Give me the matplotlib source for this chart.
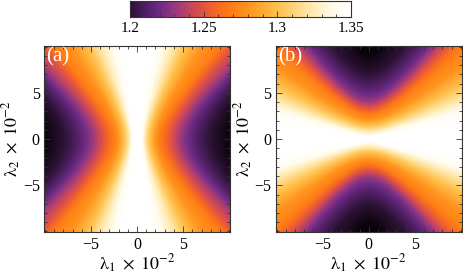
import numpy as np
import matplotlib
matplotlib.use("Agg")
import matplotlib.pyplot as plt
from matplotlib.colors import LinearSegmentedColormap, Normalize
from matplotlib.ticker import MultipleLocator

plt.rcParams['font.family'] = ['Liberation Serif', 'DejaVu Serif']
plt.rcParams['mathtext.fontset'] = 'stix'

# values of the level lines (same for both panels)
levels = [1.36, 1.34, 1.32, 1.30, 1.28, 1.27, 1.25, 1.23, 1.22, 1.21, 1.20, 1.19, 1.18]

# panel (a): for each lambda2 row, lambda1 position where the value hits each level
rows_a = [0, 1, 2, 3.5, 5, 7, 10.5]
xpos_a = [
    [0, 0.50, 0.80, 1.30, 1.90, 2.30, 3.50, 4.70, 5.50, 6.50, 7.90, 9.80, 12.0],
    [0, 0.56, 0.89, 1.39, 2.01, 2.45, 3.63, 4.84, 5.63, 6.63, 8.02, 9.90, 12.1],
    [0, 0.70, 1.12, 1.64, 2.32, 2.85, 4.00, 5.24, 6.01, 6.99, 8.36, 10.2, 12.3],
    [0, 0.99, 1.59, 2.19, 3.00, 3.73, 4.87, 6.21, 6.94, 7.91, 9.23, 11.0, 13.0],
    [0, 1.32, 2.12, 2.83, 3.82, 4.78, 5.97, 7.47, 8.18, 9.15, 10.4, 12.0, 13.9],
    [0, 1.79, 2.86, 3.76, 5.02, 6.31, 7.61, 9.39, 10.1, 11.1, 12.4, 13.9, 15.5],
    [0, 2.62, 4.19, 5.44, 7.22, 9.10, 10.7, 13.1, 13.8, 15.0, 16.3, 17.7, 19.0],
]

# panel (b): for each lambda1 column, lambda2 position where the value hits each level
cols_b = [0, 1, 2, 3.5, 5, 7, 10.5]
ypos_b = [
    [0, 0.30, 0.85, 1.35, 2.00, 2.50, 3.20, 4.00, 4.70, 5.70, 7.00, 8.80, 11.0],
    [0, 0.42, 0.95, 1.46, 2.13, 2.66, 3.38, 4.20, 4.89, 5.90, 7.23, 9.30, 11.4],
    [0, 0.67, 1.20, 1.75, 2.48, 3.10, 3.88, 4.74, 5.43, 6.46, 7.87, 10.7, 12.5],
    [0, 1.09, 1.70, 2.38, 3.25, 4.08, 5.01, 5.98, 6.69, 7.80, 9.42, 13.7, 15.2],
    [0, 1.52, 2.27, 3.10, 4.18, 5.24, 6.36, 7.51, 8.27, 9.50, 11.4, 17.4, 18.6],
    [0, 2.11, 3.07, 4.14, 5.51, 6.91, 8.34, 9.75, 10.6, 12.1, 14.4, 22.8, 23.7],
    [0, 3.15, 4.51, 6.02, 7.95, 9.98, 12.0, 13.9, 15.0, 17.0, 20.2, 32.7, 33.4],
]

cbar_ticks = [1.2, 1.25, 1.3, 1.35]
cbar_labels = ['1.2', '1.25', '1.3', '1.35']

# colour map (sunset like)
vmin, vmax = 1.18, 1.35
stops = [
    (1.18, (0.0, 0.0, 0.0)),
    (1.19, (0.05, 0.02, 0.06)),
    (1.20, (0.17, 0.07, 0.20)),
    (1.21, (0.31, 0.12, 0.39)),
    (1.22, (0.43, 0.17, 0.52)),
    (1.23, (0.59, 0.22, 0.50)),
    (1.24, (0.76, 0.27, 0.38)),
    (1.25, (0.89, 0.33, 0.25)),
    (1.26, (0.97, 0.42, 0.13)),
    (1.27, (1.0, 0.50, 0.08)),
    (1.28, (1.0, 0.58, 0.12)),
    (1.29, (1.0, 0.67, 0.20)),
    (1.30, (1.0, 0.75, 0.30)),
    (1.31, (1.0, 0.82, 0.45)),
    (1.32, (1.0, 0.89, 0.62)),
    (1.33, (1.0, 0.95, 0.80)),
    (1.34, (1.0, 0.99, 0.94)),
    (1.35, (1.0, 1.0, 1.0)),
]
cmap = LinearSegmentedColormap.from_list(
    'sunset', [((v - vmin) / (vmax - vmin), c) for v, c in stops])
cmap.set_over('white')
cmap.set_under('black')
norm = Normalize(vmin, vmax)


def mirror(lines, pos):
    lines = np.asarray(lines, float)
    pos = np.asarray(pos, float)
    lev = np.asarray(levels)
    p = np.hstack([-pos[:, :0:-1], pos])
    p = np.vstack([p[:0:-1], p])
    l = np.concatenate([-lines[:0:-1], lines])
    L = np.repeat(l[:, None], p.shape[1], axis=1)
    Z = np.tile(np.concatenate([lev[:0:-1], lev]), (len(l), 1))
    return L, p, Z


fig = plt.figure(figsize=(4.63, 2.76), dpi=100)
axa = fig.add_axes([0.095, 0.158, 0.402, 0.676])
axb = fig.add_axes([0.5955, 0.158, 0.402, 0.676])
cax = fig.add_axes([0.281, 0.937, 0.477, 0.059])

clev = np.arange(1.17, 1.3701, 0.001)

Ya, Xa, Za = mirror(rows_a, xpos_a)
cs = axa.contourf(Xa, Ya, Za, levels=clev, cmap=cmap, norm=norm, extend='both')
cs.set_edgecolor('face')
cs.set_linewidth(0.4)

Xb, Yb, Zb = mirror(cols_b, ypos_b)
cs = axb.contourf(Xb, Yb, Zb, levels=clev, cmap=cmap, norm=norm, extend='both')
cs.set_edgecolor('face')
cs.set_linewidth(0.4)

for ax, lab in [(axa, '(a)'), (axb, '(b)')]:
    ax.set_xlim(-10.1, 10.1)
    ax.set_ylim(-10.1, 10.1)
    ax.set_xticks([-5, 0, 5])
    ax.set_yticks([-5, 0, 5])
    ax.xaxis.set_minor_locator(MultipleLocator(1))
    ax.yaxis.set_minor_locator(MultipleLocator(1))
    ax.tick_params(which='both', direction='in', top=True, right=True,
                   color='#333333', width=0.6, labelsize=11.5, pad=3)
    ax.tick_params(which='major', length=4)
    ax.tick_params(which='minor', length=2)
    for s in ax.spines.values():
        s.set_color('#333333')
        s.set_linewidth(0.8)
    ax.set_xlabel(r'$\mathrm{\lambda}_1\ \times\ 10^{-2}$', fontsize=13, labelpad=0)
    ax.set_ylabel(r'$\mathrm{\lambda}_2\ \times\ 10^{-2}$', fontsize=13, labelpad=0)
    ax.text(0.012, 0.99, lab, transform=ax.transAxes, color='white',
            fontsize=15, ha='left', va='top')

grad = np.linspace(1.2, 1.35, 400).reshape(1, -1)
cax.imshow(grad, cmap=cmap, norm=norm, aspect='auto',
           extent=[1.2, 1.35, 0, 1], origin='lower')
cax.set_xlim(1.2, 1.35)
cax.set_yticks([])
cax.set_xticks(cbar_ticks)
cax.set_xticklabels(cbar_labels)
cax.xaxis.set_minor_locator(MultipleLocator(0.01))
cax.tick_params(which='both', direction='in', color='#333333', width=0.6,
                labelsize=11, pad=3)
cax.tick_params(which='major', length=4)
cax.tick_params(which='minor', length=2)
for s in cax.spines.values():
    s.set_color('#333333')
    s.set_linewidth(0.8)

fig.savefig('out.png', dpi=100)
